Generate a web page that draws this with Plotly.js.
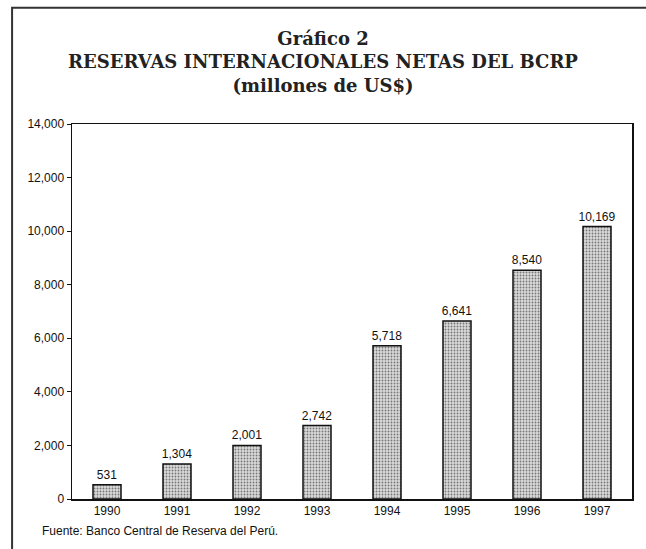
<!DOCTYPE html>
<html>
<head>
<meta charset="utf-8">
<script src="https://cdn.plot.ly/plotly-3.0.1.min.js"></script>
<style>html,body{margin:0;padding:0;background:#fff;}#chart{width:646px;height:549px;}</style>
</head>
<body>
<div id="chart"></div>
<script>
const years = ["1990","1991","1992","1993","1994","1995","1996","1997"];
const reserves = [531, 1304, 2001, 2742, 5718, 6641, 8540, 10169];
const yTicks = [0, 2000, 4000, 6000, 8000, 10000, 12000, 14000];

const trace = {
  type: 'bar',
  x: years,
  y: reserves,
  text: reserves.map(v => v.toLocaleString('en-US')),
  textposition: 'outside',
  constraintext: 'none',
  cliponaxis: false,
  textfont: {family: 'Liberation Sans, Arial, sans-serif', size: 12, color: '#111'},
  marker: {
    color: '#d4d4d4',
    line: {color: '#111', width: 1.5},
    pattern: {shape: '.', fgcolor: '#777', bgcolor: '#dadada', size: 3, solidity: 0.3}
  },
  hoverinfo: 'none'
};

const layout = {
  width: 646, height: 549,
  margin: {l: 72, r: 14, t: 124, b: 50},
  paper_bgcolor: '#fff', plot_bgcolor: '#fff',
  showlegend: false,
  bargap: 0.6,
  font: {family: 'Liberation Sans, Arial, sans-serif', color: '#111', size: 12},
  title: {
    text: '<b>Gráfico 2</b><br><b>RESERVAS INTERNACIONALES NETAS DEL BCRP</b><br><b>(millones de US$)</b>',
    font: {family: 'DejaVu Serif, serif', size: 18, color: '#222'},
    x: 0.5, xanchor: 'center', y: 0.918, yanchor: 'top'
  },
  xaxis: {
    type: 'category',
    showline: true, linecolor: '#111', linewidth: 1.5, mirror: true,
    ticks: '', showgrid: false, zeroline: false,
    tickfont: {size: 12}
  },
  yaxis: {
    range: [0, 14000],
    tickvals: yTicks,
    ticktext: yTicks.map(v => v.toLocaleString('en-US')),
    showline: true, linecolor: '#111', linewidth: 1.5, mirror: true,
    ticks: 'outside', ticklen: 4, tickcolor: '#111',
    showgrid: false, zeroline: false,
    tickfont: {size: 12}
  },
  shapes: [
    {type: 'rect', xref: 'paper', yref: 'paper', x0: -0.107, x1: 1.2, y0: -0.3, y1: 1.31,
     fillcolor: 'rgba(0,0,0,0)', line: {color: '#333', width: 2}, layer: 'above'}
  ],
  annotations: [
    {text: 'Fuente: Banco Central de Reserva del Perú.', xref: 'paper', yref: 'paper', x: -0.058, y: -0.085,
     xanchor: 'left', yanchor: 'middle', showarrow: false, font: {size: 12, color: '#111'}}
  ]
};

Plotly.newPlot('chart', [trace], layout, {displayModeBar: false, staticPlot: true});
</script>
</body>
</html>
